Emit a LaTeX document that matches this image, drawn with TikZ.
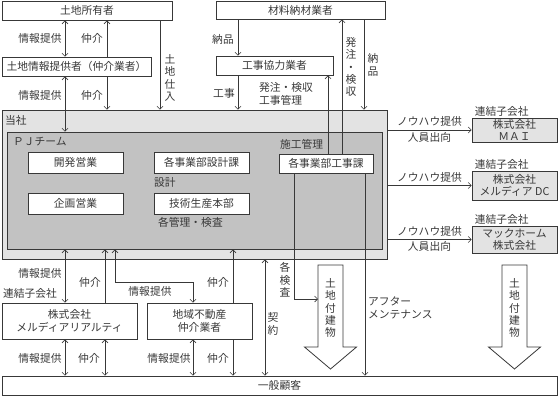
\documentclass[tikz,border=0pt]{standalone}
\usepackage{fontspec}
\setmainfont{Noto Sans CJK JP}
\usetikzlibrary{arrows.meta,positioning,calc}

\definecolor{bandgray}{gray}{0.89}
\definecolor{teamgray}{gray}{0.76}
\definecolor{inkgray}{gray}{0.22}

\tikzset{
  box/.style={draw=inkgray,fill=white,line width=0.8bp,inner sep=0pt,align=center,text=inkgray},
  lbl/.style={inner sep=0pt,align=center,text=inkgray},
  arr/.style={->,draw=inkgray,line width=0.6bp},
  dbl/.style={<->,draw=inkgray,line width=0.6bp},
  landarrow/.style={draw=inkgray,fill=white,line width=0.8bp,line join=miter}
}

\begin{document}
\begin{tikzpicture}[x=1bp,y=-1bp,>={Straight Barb[length=3bp,width=6bp]},
  font=\fontsize{10.8}{12.5}\selectfont]
\useasboundingbox (0,0) rectangle (559,396);

% company frames
\node[box,fill=bandgray,minimum width=385bp,minimum height=149bp] (company) at (194.5,184.5) {};
\node[lbl,anchor=west] (companyname) at (5,120) {当社};
\node[box,fill=teamgray,minimum width=375bp,minimum height=117bp] (pj) at (194.5,190.5) {};
\node[lbl,anchor=west] (pjname) at (13,142) {ＰＪチーム};

% departments
\node[box,minimum width=95bp,minimum height=21bp] (dev) at (75.5,162.5) {開発営業};
\node[box,minimum width=95bp,minimum height=21bp] (plan) at (75.5,203.5) {企画営業};
\node[box,minimum width=95bp,minimum height=21bp] (design) at (201.5,162.5) {各事業部設計課};
\node[box,minimum width=95bp,minimum height=21bp] (tech) at (201.5,203.5) {技術生産本部};
\node[lbl,anchor=west] (designnote) at (154,182) {設計};
\node[lbl,anchor=west] (technote) at (158,222) {各管理・検査};
\node[box,minimum width=94bp,minimum height=19bp] (works) at (326,163.5) {各事業部工事課};
\node[lbl,anchor=west] (worksnote) at (280,144) {施工管理};

% outside parties
\node[box,minimum width=170bp,minimum height=19bp] (owner) at (87,10.5) {土地所有者};
\node[box,minimum width=149bp,minimum height=19bp] (broker) at (76.5,66.5) {土地情報提供者（仲介業者）};
\node[box,minimum width=169bp,minimum height=18bp] (supplier) at (300.5,10) {材料納材業者};
\node[box,minimum width=117bp,minimum height=19bp] (contractor) at (274.5,65.5) {工事協力業者};
\node[box,minimum width=135bp,minimum height=36bp] (realty) at (69.5,321) {株式会社\\メルディアリアルティ};
\node[box,minimum width=105bp,minimum height=36bp] (local) at (199.5,321) {地域不動産\\仲介業者};
\node[box,minimum width=555bp,minimum height=19bp] (customer) at (279.5,385.5) {一般顧客};
\node[lbl,anchor=west] (realtygroup) at (3,293) {連結子会社};

% subsidiaries
\node[box,fill=bandgray,minimum width=85bp,minimum height=24bp] (sub1) at (514.5,130) {株式会社\\ＭＡＩ};
\node[box,fill=bandgray,minimum width=85bp,minimum height=29bp] (sub2) at (514.5,185.5) {株式会社\\メルディア DC};
\node[box,fill=bandgray,minimum width=85bp,minimum height=27bp] (sub3) at (514.5,239.5) {マックホーム\\株式会社};
\foreach \s in {1,2,3}{
  \node[lbl,anchor=south west] (group\s) at ([xshift=3bp,yshift=1bp]sub\s.north west) {連結子会社};
  \draw[arr] (company.east |- sub\s.west) -- node[lbl,above=3bp] (knowhow\s) {ノウハウ提供} (sub\s.west);
}
\node[lbl,below=5bp of knowhow1.south,anchor=north] (staff1) {人員出向};
\node[lbl,below=5bp of knowhow3.south,anchor=north] (staff3) {人員出向};

% columns
\foreach \cx in {65,105,107,115,160,193,233,238,265,294,328,342,364,365}
  \coordinate (x\cx) at (\cx,0);
\coordinate (bend) at (193,282);
\coordinate (landAside) at (318,299);

% land + buildings arrows
\foreach \cx/\nm in {330.5/landA,514.5/landB}{
  \draw[landarrow] ({\cx-12.5},265) -- ({\cx+12.5},265) -- ({\cx+12.5},347) -- ({\cx+26},347)
    -- (\cx,369) -- ({\cx-26},347) -- ({\cx-12.5},347) -- cycle;
  \node[lbl] (\nm) at (\cx,308) {土\\地\\付\\建\\物};
}

% upper connectors
\draw[dbl] (owner.south -| x65) -- (broker.north -| x65);
\draw[arr] (broker.north -| x107) -- (owner.south -| x107);
\draw[arr] (owner.south -| x160) -- (company.north -| x160);
\draw[dbl] (broker.south -| x65) -- (pj.north -| x65);
\draw[arr] (broker.south -| x107) -- (company.north -| x107);
\draw[arr] (supplier.south -| x238) -- (contractor.north -| x238);
\draw[arr] (contractor.south -| x238) -- (company.north -| x238);
\draw[arr] (works.north -| x328) -- (contractor.south -| x328);
\draw[arr] (works.north -| x342) -- (supplier.south -| x342);
\draw[arr] (supplier.south -| x364) -- (company.north -| x364);

% lower connectors
\draw[dbl] (pj.south -| x65) -- (realty.north -| x65);
\draw[arr] (realty.north -| x105) -- (pj.south -| x105);
\draw[dbl] (pj.south -| x115) |- (bend) -- (local.north -| bend);
\draw[arr] (local.north -| x233) -- (pj.south -| x233);
\draw[dbl] (realty.south -| x65) -- (customer.north -| x65);
\draw[dbl] (realty.south -| x105) -- (customer.north -| x105);
\draw[dbl] (local.south -| x193) -- (customer.north -| x193);
\draw[arr] (local.south -| x233) -- (customer.north -| x233);
\draw[dbl] (company.south -| x265) -- (customer.north -| x265);
\draw[arr] (works.south -| x294) |- (landAside);
\draw[arr] (works.south -| x365) -- (customer.north -| x365);

% connector labels
\node[lbl] (info1) at (40,38) {情報提供};
\node[lbl] (agent1) at (92,38) {仲介};
\node[lbl] (info2) at (40,95) {情報提供};
\node[lbl] (agent2) at (92,95) {仲介};
\node[lbl] (purchase) at (170,78) {土\\地\\仕\\入};
\node[lbl] (deliver1) at (223,39) {納品};
\node[lbl] (build) at (224,93) {工事};
\node[lbl,anchor=west,align=left] (order1) at (259,94) {発注・検収\\工事管理};
\node[lbl] (order2) at (351,67) {発\\注\\・\\検\\収};
\node[lbl] (deliver2) at (373,65) {納\\品};
\node[lbl] (info3) at (40,273) {情報提供};
\node[lbl] (agent3) at (90,282) {仲介};
\node[lbl] (info4) at (150,291) {情報提供};
\node[lbl] (agent4) at (218,282) {仲介};
\node[lbl] (info5) at (40,358) {情報提供};
\node[lbl] (agent5) at (89,358) {仲介};
\node[lbl] (info6) at (169,358) {情報提供};
\node[lbl] (agent6) at (218,358) {仲介};
\node[lbl] (contract) at (273,324) {契\\約};
\node[lbl] (inspect) at (285,280) {各\\検\\査};
\node[lbl,anchor=west,align=left] (aftercare) at (368,308) {アフター\\メンテナンス};
\end{tikzpicture}
\end{document}
